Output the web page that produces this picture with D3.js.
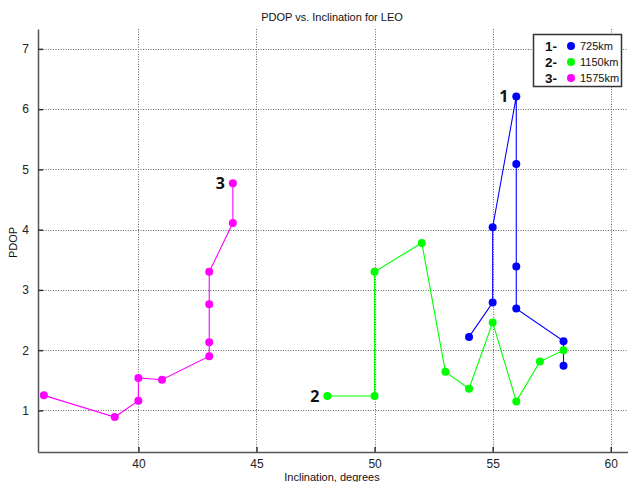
<!DOCTYPE html>
<html><head><meta charset="utf-8">
<script src="https://cdn.jsdelivr.net/npm/d3@7"></script>
<style>body{margin:0;background:#fff}svg{display:block}</style>
</head><body>
<script>
const xTicks = [40, 45, 50, 55, 60];
const yTicks = [1, 2, 3, 4, 5, 6, 7];
const seriesNames = ["725km", "1150km", "1575km"];
const seriesLabels = ["1-", "2-", "3-"];
const seriesColors = ["#0000ff", "#00ff00", "#ff00ff"];
const incl725 = [54, 55, 55, 56, 56, 56, 56, 58, 58];
const pdop725 = [2.22, 2.79, 4.04, 6.21, 5.09, 3.39, 2.69, 2.15, 1.74];
const incl1150 = [48, 50, 50, 52, 53, 54, 55, 56, 57, 58];
const pdop1150 = [1.24, 1.24, 3.30, 3.78, 1.64, 1.36, 2.46, 1.15, 1.81, 2.00];
const incl1575 = [36, 39, 40, 40, 41, 43, 43, 43, 43, 44, 44];
const pdop1575 = [1.25, 0.89, 1.16, 1.54, 1.51, 1.90, 2.13, 2.76, 3.30, 4.11, 4.77];
const annotations = [
  {text: "1", x: 56, y: 6.21},
  {text: "2", x: 48, y: 1.24},
  {text: "3", x: 44, y: 4.77}
];

const W = 628, H = 482;
const svg = d3.select("body").append("svg").attr("width", W).attr("height", H);
const L = 38, R = 628, T = 29, B = 452;
const x = d3.scaleLinear().domain([35.75, 60.73]).range([L, R]);
const y = d3.scaleLinear().domain([0.31, 7.33]).range([B, T]);
const font = "'Liberation Sans', Arial, sans-serif";

// grid
const g = svg.append("g");
g.selectAll(".vg").data(xTicks).enter().append("line")
  .attr("x1", d => Math.round(x(d)) + 0.5).attr("x2", d => Math.round(x(d)) + 0.5).attr("y1", T).attr("y2", B)
  .attr("stroke", "#666").attr("stroke-width", 1).attr("stroke-dasharray", "1,1.5");
g.selectAll(".hg").data(yTicks).enter().append("line")
  .attr("x1", L).attr("x2", R).attr("y1", d => Math.round(y(d)) + 0.5).attr("y2", d => Math.round(y(d)) + 0.5)
  .attr("stroke", "#666").attr("stroke-width", 1).attr("stroke-dasharray", "1,1.5");

// axes
const xAxis = d3.axisBottom(x).tickValues(xTicks).tickFormat(d3.format("d")).tickSizeInner(-5).tickSizeOuter(0).tickPadding(7);
const yAxis = d3.axisLeft(y).tickValues(yTicks).tickFormat(d3.format("d")).tickSizeInner(-5).tickSizeOuter(0).tickPadding(9);
const gx = svg.append("g").attr("transform", `translate(0,${B})`).call(xAxis);
const gy = svg.append("g").attr("transform", `translate(${L},0)`).call(yAxis);
[gx, gy].forEach(a => {
  a.select(".domain").attr("stroke", "#555").attr("stroke-width", 1.5);
  a.selectAll(".tick line").attr("stroke", "#333").attr("stroke-width", 1.5);
  a.selectAll(".tick text").attr("font-family", font).attr("font-size", 12).attr("fill", "#222");
});

// titles
svg.append("text").attr("x", 332).attr("y", 21).attr("text-anchor", "middle")
  .attr("font-family", font).attr("font-size", 11).attr("fill", "#111").text("PDOP vs. Inclination for LEO");
svg.append("text").attr("x", 332).attr("y", 481).attr("text-anchor", "middle")
  .attr("font-family", font).attr("font-size", 11).attr("fill", "#111").text("Inclination, degrees");
svg.append("text").attr("transform", `translate(17,${(T+B)/2 + 2}) rotate(-90)`).attr("text-anchor", "middle")
  .attr("font-family", font).attr("font-size", 11).attr("fill", "#111").text("PDOP");

// series
const series = [
  {xs: incl725, ys: pdop725},
  {xs: incl1150, ys: pdop1150},
  {xs: incl1575, ys: pdop1575}
];
const line = d3.line().x(d => x(d[0])).y(d => y(d[1]));
series.forEach((s, i) => {
  const pts = s.xs.map((v, j) => [v, s.ys[j]]);
  svg.append("path").datum(pts).attr("d", line).attr("fill", "none")
    .attr("stroke", seriesColors[i]).attr("stroke-width", 1.1);
  svg.append("g").selectAll("circle").data(pts).enter().append("circle")
    .attr("cx", d => x(d[0])).attr("cy", d => y(d[1])).attr("r", 4)
    .attr("fill", seriesColors[i]);
});

// annotations
annotations.forEach(a => {
  svg.append("text").attr("x", x(a.x) - 8).attr("y", y(a.y) + 6).attr("text-anchor", "end")
    .attr("font-family", "'Open Sans', sans-serif").attr("font-weight", "bold").attr("font-size", 16)
    .attr("fill", "#111").text(a.text);
});

// legend
const lg = svg.append("g");
lg.append("rect").attr("x", 533.5).attr("y", 34.5).attr("width", 88).attr("height", 52)
  .attr("fill", "#fff").attr("stroke", "#333").attr("stroke-width", 1.5);
seriesNames.forEach((n, i) => {
  const cy = 46 + i * 16;
  lg.append("text").attr("x", 545).attr("y", cy + 5).attr("font-family", font)
    .attr("font-weight", "bold").attr("font-size", 13.5).attr("fill", "#111").text(seriesLabels[i]);
  lg.append("circle").attr("cx", 571).attr("cy", cy).attr("r", 4).attr("fill", seriesColors[i]);
  lg.append("text").attr("x", 580).attr("y", cy + 4).attr("font-family", font)
    .attr("font-size", 11).attr("fill", "#111").text(n);
});
</script>
</body></html>
